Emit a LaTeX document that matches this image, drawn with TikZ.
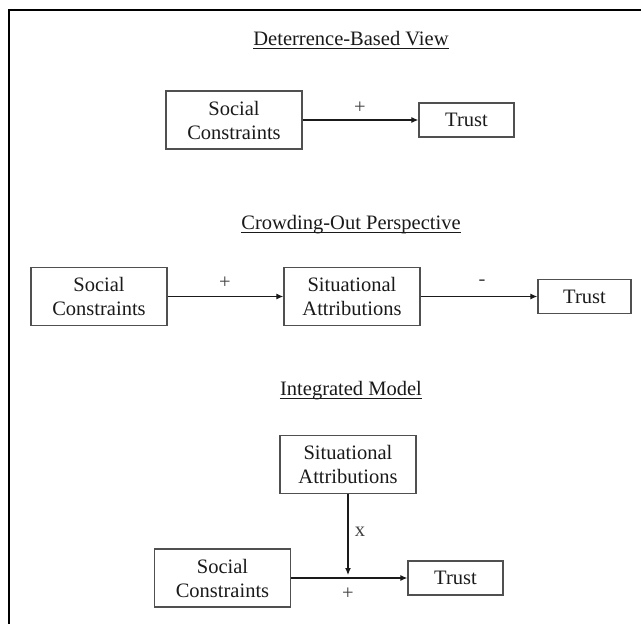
\documentclass[tikz,border=0pt]{standalone}
\usepackage{fontspec}
\setmainfont{Liberation Serif}
\usetikzlibrary{arrows.meta,calc}
\definecolor{boxgray}{HTML}{505050}
\definecolor{textblack}{HTML}{1A1A1A}
\definecolor{lblgray}{HTML}{404040}
\begin{document}
\begin{tikzpicture}[x=1pt,y=-1pt,
  box/.style={draw=boxgray, line width=1.3pt, align=center, inner sep=0pt,
    font=\fontsize{20.5}{24}\selectfont, text=textblack},
  bigbox/.style={box, minimum width=136pt, minimum height=58pt},
  trustbox/.style={box, minimum width=95pt, minimum height=34pt},
  lbl/.style={inner sep=0pt, font=\fontsize{20.5}{24}\selectfont, text=lblgray},
  ttl/.style={inner sep=0pt, anchor=base, font=\fontsize{20.5}{24}\selectfont, text=textblack},
  arr/.style={line width=1.2pt, draw=textblack, -{Latex[length=7pt,width=6pt]}},
  uline/.style={line width=1pt, draw=textblack}]
\useasboundingbox (0,0) rectangle (641,624);
% frame
\coordinate (fb) at (9,624);
\coordinate (fc) at (9,10);
\coordinate (fr) at (641,10);
\draw[line width=1.6pt, black] (fb) -- (fc) -- (fr);

% Row 1: Deterrence-Based View
\node[ttl] (t1) at (351,45) {Deterrence-Based View};
\draw[uline] ($(t1.base west)+(0,3.5)$) -- ($(t1.base east)+(0,3.5)$);
\node[bigbox] (sc1) at (234,120) {Social\\Constraints};
\node[trustbox] (tr1) at (466.5,120) {Trust};
\draw[arr] (sc1.east) -- (tr1.west);
\node[lbl] (p1) at (360,108) {+};

% Row 2: Crowding-Out Perspective
\node[ttl] (t2) at (351,229) {Crowding-Out Perspective};
\draw[uline] ($(t2.base west)+(0,3.5)$) -- ($(t2.base east)+(0,3.5)$);
\node[bigbox] (sc2) at (99,296.5) {Social\\Constraints};
\node[bigbox] (sa2) at (352,296.5) {Situational\\Attributions};
\node[trustbox, minimum width=93pt] (tr2) at (584.5,296.5) {Trust};
\draw[arr] (sc2.east) -- (sa2.west);
\draw[arr] (sa2.east) -- (tr2.west);
\node[lbl] (p2) at (225,283) {+};
\node[lbl] (m2) at (482,283) {-};

% Row 3: Integrated Model
\node[ttl] (t3) at (351,395) {Integrated Model};
\draw[uline] ($(t3.base west)+(0,3.5)$) -- ($(t3.base east)+(0,3.5)$);
\node[bigbox] (sa3) at (348,464.5) {Situational\\Attributions};
\node[bigbox] (sc3) at (222.5,578) {Social\\Constraints};
\node[trustbox] (tr3) at (455.5,578) {Trust};
\coordinate (mid) at (348,575);
\draw[arr] (sc3.east) -- (tr3.west);
\draw[arr] (sa3.south) -- (mid);
\node[lbl] (x3) at (360,532) {x};
\node[lbl] (p3) at (348,594) {+};
\end{tikzpicture}
\end{document}
